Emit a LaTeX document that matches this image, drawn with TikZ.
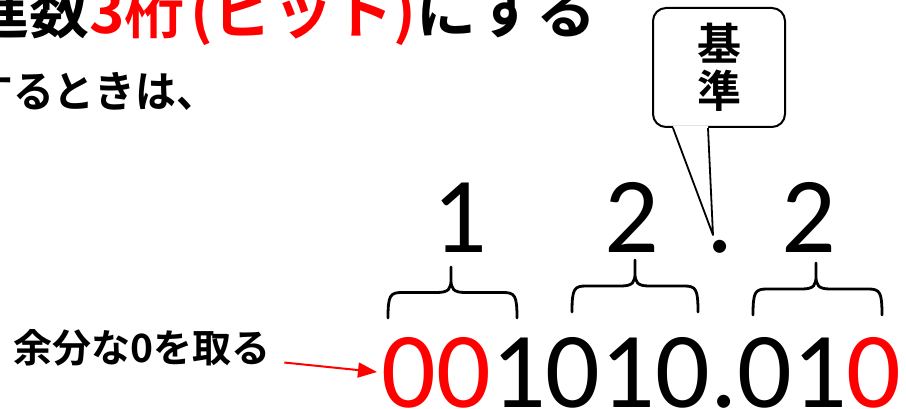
\documentclass[tikz,border=0pt]{standalone}
\usepackage{fontspec}
\newfontfamily\jpfont{Noto Sans CJK JP}[BoldFont={* Bold}]
\newfontfamily\jpnarrowfont{Noto Sans CJK JP}[BoldFont={* Bold}, FakeStretch=0.95]
\newfontfamily\digitfont{Carlito}
\usetikzlibrary{positioning, calc, arrows.meta}

\begin{document}
\begin{tikzpicture}[
  x=1pt, y=-1pt,
  % Japanese text
  headline/.style={inner sep=0pt, font=\jpfont\bfseries\fontsize{60}{60}\selectfont},
  subline/.style={inner sep=0pt, font=\jpnarrowfont\bfseries\fontsize{43}{43}\selectfont},
  noteText/.style={inner sep=0pt, font=\jpfont\bfseries\fontsize{39}{39}\selectfont},
  % Digits
  bigDigit/.style={inner sep=0pt, anchor=base, font=\digitfont\fontsize{108}{108}\selectfont},
  % Braces, callout, arrow
  braceLine/.style={line width=2.8pt, line cap=round, line join=round},
  calloutBox/.style={draw, line width=2pt, rounded corners=13pt, fill=white,
    minimum width=132pt, minimum height=119pt, align=center,
    font=\jpfont\bfseries\fontsize{44}{47}\selectfont},
  redArrow/.style={draw=red, line width=2pt, -{Triangle[length=19pt, width=15pt, fill=red]}}
  ]

  \useasboundingbox (0,0) rectangle (906,409);
  \clip (0,0) rectangle (906,409);

  % --- Heading (cut by the frame) ---
  \node[headline, anchor=base east] (heading) at (597,34)
    {進数\textcolor{red}{3桁\hspace{6pt}(ビット)}にする};
  \node[subline, anchor=base west] (subheading) at (-28,108) {するときは、};

  % --- Octal digits ---
  \node[bigDigit] (octA) at (460,253) {1};
  \node[bigDigit] (octB) at (632,253) {2};
  \node[bigDigit] (octPoint) at (720,253) {.};
  \node[bigDigit] (octC) at (809,253) {2};

  % --- Binary digits ---
  \node[bigDigit, anchor=base west] (binDigits) at (381.5,407)
    {\textcolor{red}{00}1010.01\textcolor{red}{0}};

  % --- Braces (one per 3 bits) ---
  \foreach \xl/\xm/\xr/\yb/\yt in {388/451/517/318/267, 572/635/698/312/260, 753/816/882/315/263}{
    \pgfmathsetmacro\yh{(\yb+\yt)/2}
    \draw[braceLine] (\xl,\yb) .. controls (\xl,\yh+3) and (\xl+2,\yh) .. (\xl+14,\yh)
      -- (\xm-14,\yh) .. controls (\xm-2,\yh) and (\xm,\yh-4) .. (\xm,\yh-13) -- (\xm,\yt)
      -- (\xm,\yh-13) .. controls (\xm,\yh-4) and (\xm+2,\yh) .. (\xm+14,\yh)
      -- (\xr-14,\yh) .. controls (\xr-2,\yh) and (\xr,\yh+3) .. (\xr,\yb);
  }

  % --- Callout ---
  \node[calloutBox] (kijun) at (719,67.5) {基\\準};
  \coordinate (kijunTip) at (713,235);
  \fill[white] ($(kijun.south)+(-46,-2)$) -- (kijunTip) -- ($(kijun.south)+(-11,-2)$) -- cycle;
  \draw[line width=1.8pt, line join=round] ($(kijun.south)+(-46,0)$) -- (kijunTip)
    -- ($(kijun.south)+(-11,0)$);

  % --- Note with arrow ---
  \node[noteText, anchor=west] (extraZero) at (13,348) {余分な0を取る};
  \coordinate (zeroTip) at (377,372);
  \draw[redArrow, shorten <=14pt] (extraZero) -- (zeroTip);

\end{tikzpicture}
\end{document}
